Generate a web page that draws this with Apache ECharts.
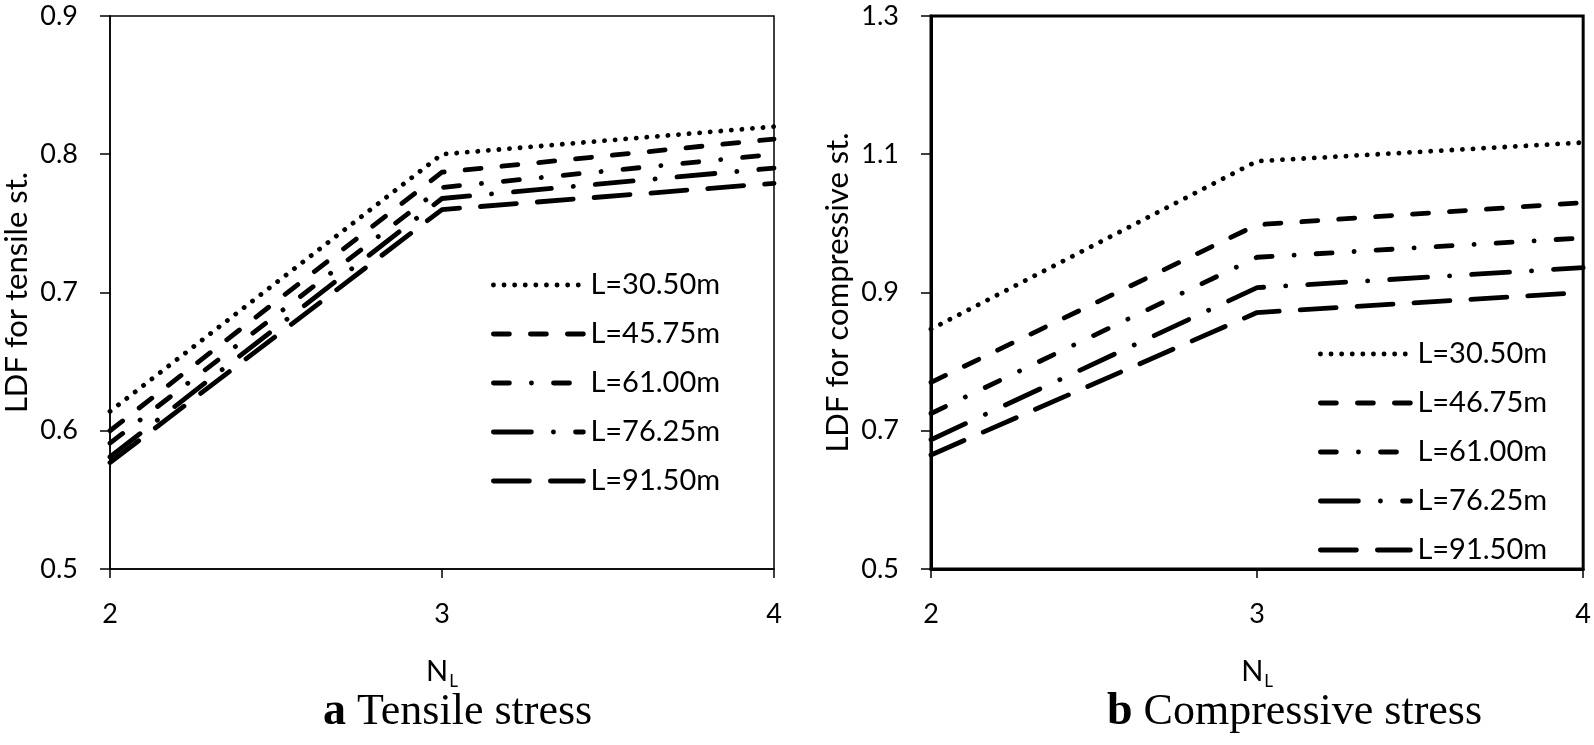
<!DOCTYPE html>
<html>
<head>
<meta charset="utf-8">
<script src="https://cdn.jsdelivr.net/npm/echarts@6/dist/echarts.min.js"></script>
<style>
html,body{margin:0;padding:0;background:#fff;}
#chart{width:1594px;height:745px;}
</style>
</head>
<body>
<div id="chart"></div>
<script>
// ---- data ----
const nLanes = [2, 3, 4];

const tensileNames = ['L=30.50m', 'L=45.75m', 'L=61.00m', 'L=76.25m', 'L=91.50m'];
const tensile3050 = [0.614, 0.800, 0.820];
const tensile4575 = [0.600, 0.787, 0.811];
const tensile6100 = [0.591, 0.776, 0.800];
const tensile7625 = [0.581, 0.768, 0.790];
const tensile9150 = [0.577, 0.760, 0.779];

const compNames = ['L=30.50m', 'L=46.75m', 'L=61.00m', 'L=76.25m', 'L=91.50m'];
const comp3050 = [0.847, 1.090, 1.117];
const comp4675 = [0.770, 0.998, 1.030];
const comp6100 = [0.725, 0.951, 0.979];
const comp7625 = [0.687, 0.907, 0.936];
const comp9150 = [0.665, 0.871, 0.900];

const tensileTicks = { min: 0.5, max: 0.9, interval: 0.1 };
const compTicks = { min: 0.5, max: 1.3, interval: 0.2 };

// ---- styles ----
const dashTypes = [
  [0.1, 10.5],
  [16, 21],
  [16, 22, 0.1, 22],
  [38, 22, 0.1, 22],
  [36, 21]
];

function pairs(ys) { return nLanes.map((x, i) => [x, ys[i]]); }

const tensileData = [tensile3050, tensile4575, tensile6100, tensile7625, tensile9150];
const compData = [comp3050, comp4675, comp6100, comp7625, comp9150];

const LW = 4.8;
const series = [];
tensileData.forEach((ys, i) => {
  series.push({
    type: 'line', name: tensileNames[i], xAxisIndex: 0, yAxisIndex: 0,
    data: pairs(ys), symbol: 'none', silent: true,
    itemStyle: { color: '#000' },
    lineStyle: { color: '#000', width: LW, type: dashTypes[i], cap: 'round', join: 'round' }
  });
});
compData.forEach((ys, i) => {
  series.push({
    type: 'line', name: compNames[i] + ' ', xAxisIndex: 1, yAxisIndex: 1,
    data: pairs(ys), symbol: 'none', silent: true,
    itemStyle: { color: '#000' },
    lineStyle: { color: '#000', width: LW, type: dashTypes[i], cap: 'round', join: 'round' }
  });
});

const FONT = 'Lato';

function xAxisCfg(idx, lw) {
  return {
    type: 'value', gridIndex: idx, min: 2, max: 4, interval: 1,
    axisLine: { show: true, lineStyle: { color: '#000', width: lw } },
    axisTick: { show: true, length: 9, lineStyle: { color: '#000', width: 1.5 } },
    splitLine: { show: false },
    axisLabel: { color: '#000', fontFamily: FONT, fontSize: 27, margin: 32 },
    name: '{n|N}{s|L}', nameLocation: 'middle', nameGap: 84,
    nameTextStyle: {
      rich: {
        n: { fontFamily: FONT, fontSize: 29, color: '#000', lineHeight: 32 },
        s: { fontFamily: FONT, fontSize: 17, color: '#000', padding: [20, 0, 0, 1] }
      }
    }
  };
}
function yAxisCfg(idx, lw, ticks, name) {
  return {
    type: 'value', gridIndex: idx, min: ticks.min, max: ticks.max, interval: ticks.interval,
    axisLine: { show: true, lineStyle: { color: '#000', width: lw } },
    axisTick: { show: true, length: 10, lineStyle: { color: '#000', width: 1.5 } },
    splitLine: { show: false },
    axisLabel: { color: '#000', fontFamily: FONT, fontSize: 27, margin: 32 },
    name: name, nameLocation: 'middle', nameGap: 78,
    nameTextStyle: { color: '#000', fontFamily: FONT, fontSize: 31 }
  };
}

function legendCfg(names, left, top) {
  return {
    data: names, orient: 'vertical', left: left, top: top, padding: 0,
    itemWidth: 90, itemHeight: 14, itemGap: 19,
    selectedMode: false,
    textStyle: { color: '#000', fontFamily: FONT, fontSize: 29, lineHeight: 30, padding: [0, 0, 0, 2] },
    itemStyle: { opacity: 0, color: 'rgba(0,0,0,0)', borderWidth: 0 },
    lineStyle: { width: LW }
  };
}

const serifRich = {
  b: { fontFamily: 'Liberation Serif', fontWeight: 'bold', fontSize: 46, color: '#000' },
  r: { fontFamily: 'Liberation Serif', fontWeight: 'normal', fontSize: 44, color: '#000' }
};

const option = {
  animation: false,
  backgroundColor: '#fff',
  title: [
    {
      text: '{b|a} {r|Tensile stress}', left: 318, top: 684,
      textStyle: { fontWeight: 'normal', fontFamily: 'Liberation Serif', fontSize: 44, rich: serifRich }
    },
    {
      text: '{b|b} {r|Compressive stress}', left: 1102, top: 684,
      textStyle: { fontWeight: 'normal', fontFamily: 'Liberation Serif', fontSize: 44, rich: serifRich }
    }
  ],
  legend: [
    legendCfg(tensileNames, 491, 270),
    legendCfg(compNames.map(n => n + ' '), 1318, 339)
  ],
  grid: [
    { left: 108, top: 16, width: 666, height: 553, show: true, borderColor: '#000', borderWidth: 1.5, backgroundColor: 'transparent' },
    { left: 931, top: 16, width: 655, height: 553, show: true, borderColor: '#000', borderWidth: 3, backgroundColor: 'transparent' }
  ],
  xAxis: [xAxisCfg(0, 1.5), xAxisCfg(1, 3)],
  yAxis: [
    yAxisCfg(0, 1.5, tensileTicks, 'LDF for tensile st.'),
    yAxisCfg(1, 3, compTicks, 'LDF for compressive st.')
  ],
  series: series
};

const chart = echarts.init(document.getElementById('chart'), null, { renderer: 'canvas' });
chart.setOption(option);
</script>
</body>
</html>
